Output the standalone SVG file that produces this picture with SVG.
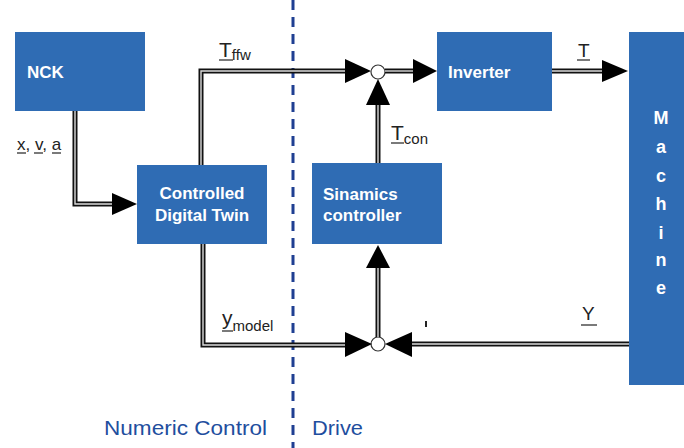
<svg xmlns="http://www.w3.org/2000/svg" width="684" height="448" viewBox="0 0 684 448">
  <style>
    .box { fill: #2f6cb4; }
    .btxt { font-family: "Liberation Sans", Arial, sans-serif; font-weight: bold; font-size: 17px; fill: #ffffff; }
    .lbl { font-family: "Liberation Sans", Arial, sans-serif; fill: #222222; }
    .sub { font-size: 15px; }
    .zone { font-family: "Liberation Sans", Arial, sans-serif; font-size: 21px; fill: #1f4e9e; }
    .wire-o { fill: none; stroke: #111111; stroke-width: 5; stroke-linejoin: miter; }
    .wire-i { fill: none; stroke: #ffffff; stroke-width: 1.4; opacity: 0.85; }
    .head { fill: #000000; }
    .sum { fill: #ffffff; stroke: #333333; stroke-width: 1.2; }
    .ul { stroke: #222222; stroke-width: 1.2; }
  </style>

  <!-- separation between numeric control and drive -->
  <line x1="293" y1="0" x2="293" y2="448" stroke="#1f3f92" stroke-width="3" stroke-dasharray="10 7"/>

  <g id="nck">
    <rect class="box" x="15" y="32" width="130" height="79"/>
    <text class="btxt" x="27" y="78">NCK</text>
  </g>

  <g id="digital-twin">
    <rect class="box" x="137" y="165" width="130" height="79"/>
    <text class="btxt" x="202" y="199" text-anchor="middle">Controlled</text>
    <text class="btxt" x="202" y="221" text-anchor="middle">Digital Twin</text>
  </g>

  <g id="inverter">
    <rect class="box" x="437" y="32" width="115" height="79"/>
    <text class="btxt" x="448" y="78">Inverter</text>
  </g>

  <g id="sinamics">
    <rect class="box" x="312" y="163" width="130" height="81"/>
    <text class="btxt" x="323" y="200">Sinamics</text>
    <text class="btxt" x="323" y="221">controller</text>
  </g>

  <g id="machine">
    <rect class="box" x="629" y="32" width="55" height="353"/>
    <g class="btxt" text-anchor="middle" style="font-size:18px">
      <text x="661" y="124">M</text>
      <text x="661" y="153">a</text>
      <text x="661" y="182">c</text>
      <text x="661" y="210">h</text>
      <text x="661" y="239">i</text>
      <text x="661" y="266">n</text>
      <text x="661" y="294">e</text>
    </g>
  </g>

  <g id="sum-ffw">
    <circle class="sum" cx="378" cy="72" r="7"/>
  </g>
  <g id="sum-fb">
    <circle class="sum" cx="378" cy="344" r="7"/>
  </g>

  <g id="connectors">
    <!-- NCK to digital twin -->
    <path class="wire-o" d="M75 111 V204 H114"/>
    <path class="wire-i" d="M75 111 V204 H114"/>
    <polygon class="head" points="112,193 137,204 112,215"/>

    <!-- feed-forward torque -->
    <path class="wire-o" d="M201 165 V71 H347"/>
    <path class="wire-i" d="M201 165 V71 H347"/>
    <polygon class="head" points="345,59 371,71 345,83"/>

    <!-- sum to inverter -->
    <path class="wire-o" d="M385 71 H415"/>
    <path class="wire-i" d="M385 71 H415"/>
    <polygon class="head" points="413,59 437,71 413,83"/>

    <!-- inverter to machine -->
    <path class="wire-o" d="M552 71 H604"/>
    <path class="wire-i" d="M552 71 H604"/>
    <polygon class="head" points="602,60 628,71 602,82"/>

    <!-- controller torque -->
    <path class="wire-o" d="M378 163 V103"/>
    <path class="wire-i" d="M378 163 V103"/>
    <polygon class="head" points="366,105 378,79 390,105"/>

    <!-- model output -->
    <path class="wire-o" d="M203 244 V345 H347"/>
    <path class="wire-i" d="M203 244 V345 H347"/>
    <polygon class="head" points="345,332 372,344 345,357"/>

    <!-- measured output -->
    <path class="wire-o" d="M629 344 H410"/>
    <path class="wire-i" d="M629 344 H410"/>
    <polygon class="head" points="412,332 385,344 412,357"/>

    <!-- error to controller -->
    <path class="wire-o" d="M378 337 V265"/>
    <path class="wire-i" d="M378 337 V265"/>
    <polygon class="head" points="366,268 378,245 390,268"/>
  </g>

  <!-- signal labels -->
  <g id="labels" class="lbl">
    <text x="17" y="150" font-size="17">x, v, a</text>
    <line class="ul" x1="17" y1="153" x2="26" y2="153"/>
    <line class="ul" x1="34" y1="153" x2="43" y2="153"/>
    <line class="ul" x1="52" y1="153" x2="61" y2="153"/>

    <text x="219" y="57" font-size="21">T<tspan class="sub" dy="3">ffw</tspan></text>
    <line class="ul" x1="219" y1="60" x2="233" y2="60"/>

    <text x="578" y="57" font-size="19">T</text>
    <line class="ul" x1="577" y1="60" x2="590" y2="60"/>

    <text x="391" y="140" font-size="21">T<tspan class="sub" dy="4">con</tspan></text>
    <line class="ul" x1="391" y1="143" x2="404" y2="143"/>

    <text x="222" y="325" font-size="21">y<tspan class="sub" dy="6">model</tspan></text>
    <line class="ul" x1="222" y1="331" x2="233" y2="331"/>

    <text x="582" y="320" font-size="19">Y</text>
    <line class="ul" x1="581" y1="325" x2="597" y2="325"/>

    <line x1="426" y1="321" x2="426" y2="327" stroke="#222222" stroke-width="2"/>
  </g>

  <g id="zones">
    <text class="zone" x="104" y="435" textLength="163" lengthAdjust="spacingAndGlyphs">Numeric Control</text>
    <text class="zone" x="312" y="435" textLength="51" lengthAdjust="spacingAndGlyphs">Drive</text>
  </g>
</svg>
